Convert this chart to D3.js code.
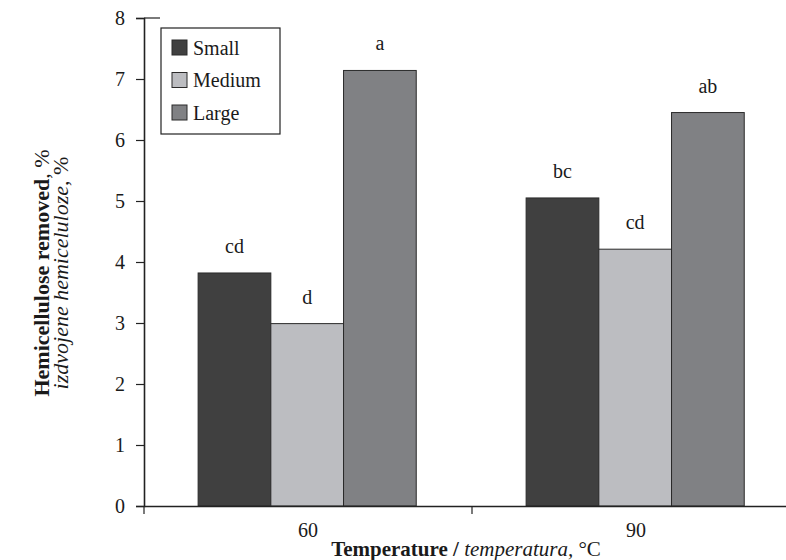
<!DOCTYPE html>
<html><head><meta charset="utf-8">
<script src="https://cdn.jsdelivr.net/npm/d3@7"></script>
<style>body{margin:0;background:#fff}svg{display:block}text{font-family:"Liberation Serif","Times New Roman",serif;fill:#1a1a1a}</style>
</head><body><svg id="c" width="786" height="560"></svg>
<script>
const categories = ["60", "90"];
const seriesNames = ["Small", "Medium", "Large"];
const small = [3.82, 5.05];
const medium = [2.99, 4.21];
const large = [7.14, 6.45];
const letters = [["cd", "d", "a"], ["bc", "cd", "ab"]];
const yTicks = [0,1,2,3,4,5,6,7,8];
const colors = ["#404040", "#bcbdc1", "#808184"];

const values = [small, medium, large];
const FS = 20;
const svg = d3.select("#c");
const x0 = d3.scaleBand().domain(categories).range([144, 800]).paddingInner(0).paddingOuter(0);
const x1 = d3.scaleBand().domain(seriesNames)
  .range([x0.bandwidth()*0.165, x0.bandwidth()*0.83]).paddingInner(0).paddingOuter(0);
const y = d3.scaleLinear().domain([0, 8]).range([506, 18]);

// bars
categories.forEach((c, ci) => {
  seriesNames.forEach((s, si) => {
    const v = values[si][ci];
    svg.append("rect")
      .attr("x", x0(c) + x1(s))
      .attr("y", y(v))
      .attr("width", x1.bandwidth())
      .attr("height", y(0) - y(v))
      .attr("fill", colors[si])
      .attr("stroke", "#2a2a2a").attr("stroke-width", 1);
    svg.append("text")
      .attr("x", x0(c) + x1(s) + x1.bandwidth()/2)
      .attr("y", y(v) - 20)
      .attr("text-anchor", "middle")
      .attr("font-size", FS)
      .text(letters[ci][si]);
  });
});

// y axis
const yAxis = d3.axisLeft(y).tickValues(yTicks).tickSize(8).tickPadding(11).tickFormat(d3.format("d"));
const gy = svg.append("g").attr("transform", "translate(144,0)").call(yAxis);
gy.attr("font-family", null).attr("font-size", null);
gy.select(".domain").attr("stroke", "#222").attr("stroke-width", 1.6);
gy.selectAll(".tick line").attr("stroke", "#222").attr("stroke-width", 1.2);
gy.selectAll(".tick text").attr("font-size", FS).attr("fill", "#1a1a1a");
gy.append("line").attr("x1", 0).attr("x2", 16).attr("y1", y(8)).attr("y2", y(8))
  .attr("stroke", "#222").attr("stroke-width", 1.2);

// x axis
const xAxis = d3.axisBottom(x0).tickSize(0).tickPadding(17);
const gx = svg.append("g").attr("transform", "translate(0,506)").call(xAxis);
gx.attr("font-family", null).attr("font-size", null);
gx.select(".domain").attr("stroke", "#222").attr("stroke-width", 1.6);
gx.selectAll(".tick text").attr("font-size", FS).attr("fill", "#1a1a1a");
const bounds = categories.map(c => x0(c)).concat([x0(categories[categories.length-1]) + x0.bandwidth()]);
gx.selectAll(".bt").data(bounds).enter().append("line")
  .attr("x1", d => d).attr("x2", d => d).attr("y1", 0).attr("y2", 8)
  .attr("stroke", "#222").attr("stroke-width", 1.2);

// x title
const xt = svg.append("text").attr("x", 466).attr("y", 556).attr("text-anchor", "middle").attr("font-size", 21);
xt.append("tspan").attr("font-weight", "bold").text("Temperature / ");
xt.append("tspan").attr("font-style", "italic").text("temperatura,");
xt.append("tspan").text(" °C");

// y title
const yt = svg.append("g").attr("transform", "translate(0,273) rotate(-90)");
const t1 = yt.append("text").attr("x", 0).attr("y", 49).attr("text-anchor", "middle").attr("font-size", 22);
t1.append("tspan").attr("font-weight", "bold").text("Hemicellulose removed");
t1.append("tspan").text(", %");
const t2 = yt.append("text").attr("x", 0).attr("y", 68).attr("text-anchor", "middle").attr("font-size", 22);
t2.append("tspan").attr("font-style", "italic").text("izdvojene hemiceluloze");
t2.append("tspan").text(", %");

// legend
const lg = svg.append("g").attr("transform", "translate(161,28)");
lg.append("rect").attr("width", 119).attr("height", 106).attr("fill", "#fff").attr("stroke", "#222").attr("stroke-width", 1.2);
seriesNames.forEach((s, i) => {
  const ry = 19.5 + i * 32.5;
  lg.append("rect").attr("x", 11).attr("y", ry - 7.5).attr("width", 15).attr("height", 15)
    .attr("fill", colors[i]).attr("stroke", "#2a2a2a").attr("stroke-width", 1);
  lg.append("text").attr("x", 32).attr("y", ry + 7).attr("font-size", FS).text(s);
});
</script></body></html>
